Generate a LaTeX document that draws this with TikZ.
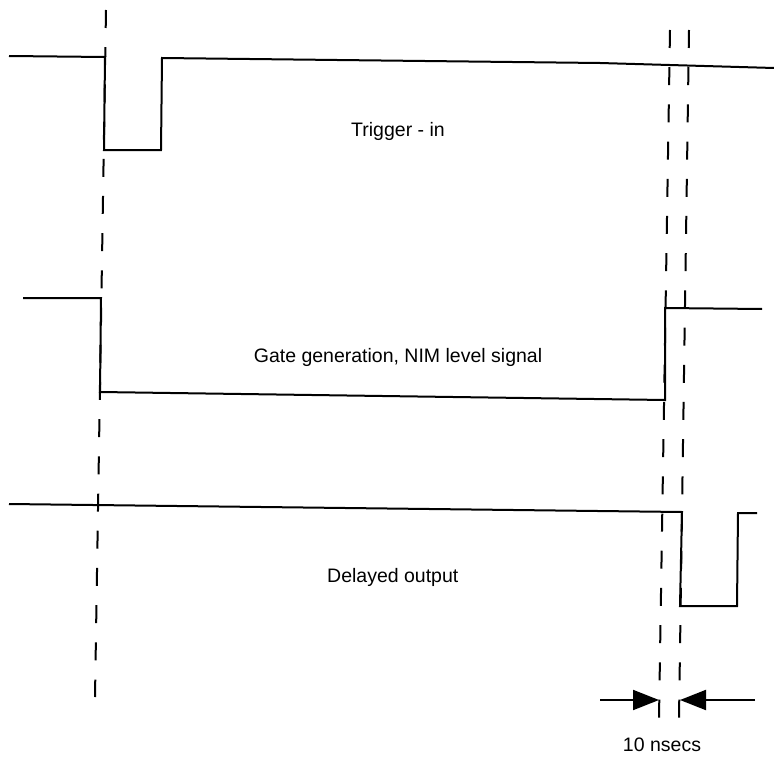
\documentclass[tikz,border=0pt]{standalone}
\usepackage{fontspec}
\setmainfont{Liberation Sans}
\usetikzlibrary{arrows.meta}
\begin{document}
\begin{tikzpicture}[x=1pt,y=-1pt,
  sig/.style={line width=2pt,line join=miter},
  guide/.style={line width=2pt,dash pattern=on 18pt off 19.2pt},
  dimarrow/.style={line width=2pt,-{Triangle[length=26pt,width=20pt]}},
  lbl/.style={font=\fontsize{19.5}{22}\selectfont,inner sep=0pt,anchor=base}]
\useasboundingbox (0,0) rectangle (774,760);
% signals
\draw[sig] (9,56) -- (105,57) -- (104,150) -- (161,150) -- (162,58) -- (600,63) -- (774,68);
\draw[sig] (23,298) -- (101,298) -- (100,392) -- (665,400) -- (665,308) -- (762,309);
\draw[sig] (9,504) -- (682,512) -- (680,606) -- (737,606) -- (738,513) -- (757,513);
% guide lines
\coordinate (gLt) at (106,10);  \coordinate (gLb) at (95,697);
\coordinate (gAt) at (670,30);  \coordinate (gAb) at (659,718);
\coordinate (gBt) at (689,30);  \coordinate (gBb) at (679,718);
\draw[guide] (gLt) -- (gLb);
\draw[guide] (gAt) -- (gAb);
\draw[guide] (gBt) -- (gBb);
% dimension arrows
\coordinate (aLs) at (600,700); \coordinate (aLe) at (659,700);
\coordinate (aRs) at (755,700); \coordinate (aRe) at (680,700);
\draw[dimarrow] (aLs) -- (aLe);
\draw[dimarrow] (aRs) -- (aRe);
% labels
\node[lbl] (trig) at (398,136) {Trigger - in};
\node[lbl] (gate) at (398,362) {Gate generation, NIM level signal};
\node[lbl,anchor=base west] (dout) at (327,582) {Delayed output};
\node[lbl] (dt) at (662,751) {10 nsecs};
\end{tikzpicture}
\end{document}
